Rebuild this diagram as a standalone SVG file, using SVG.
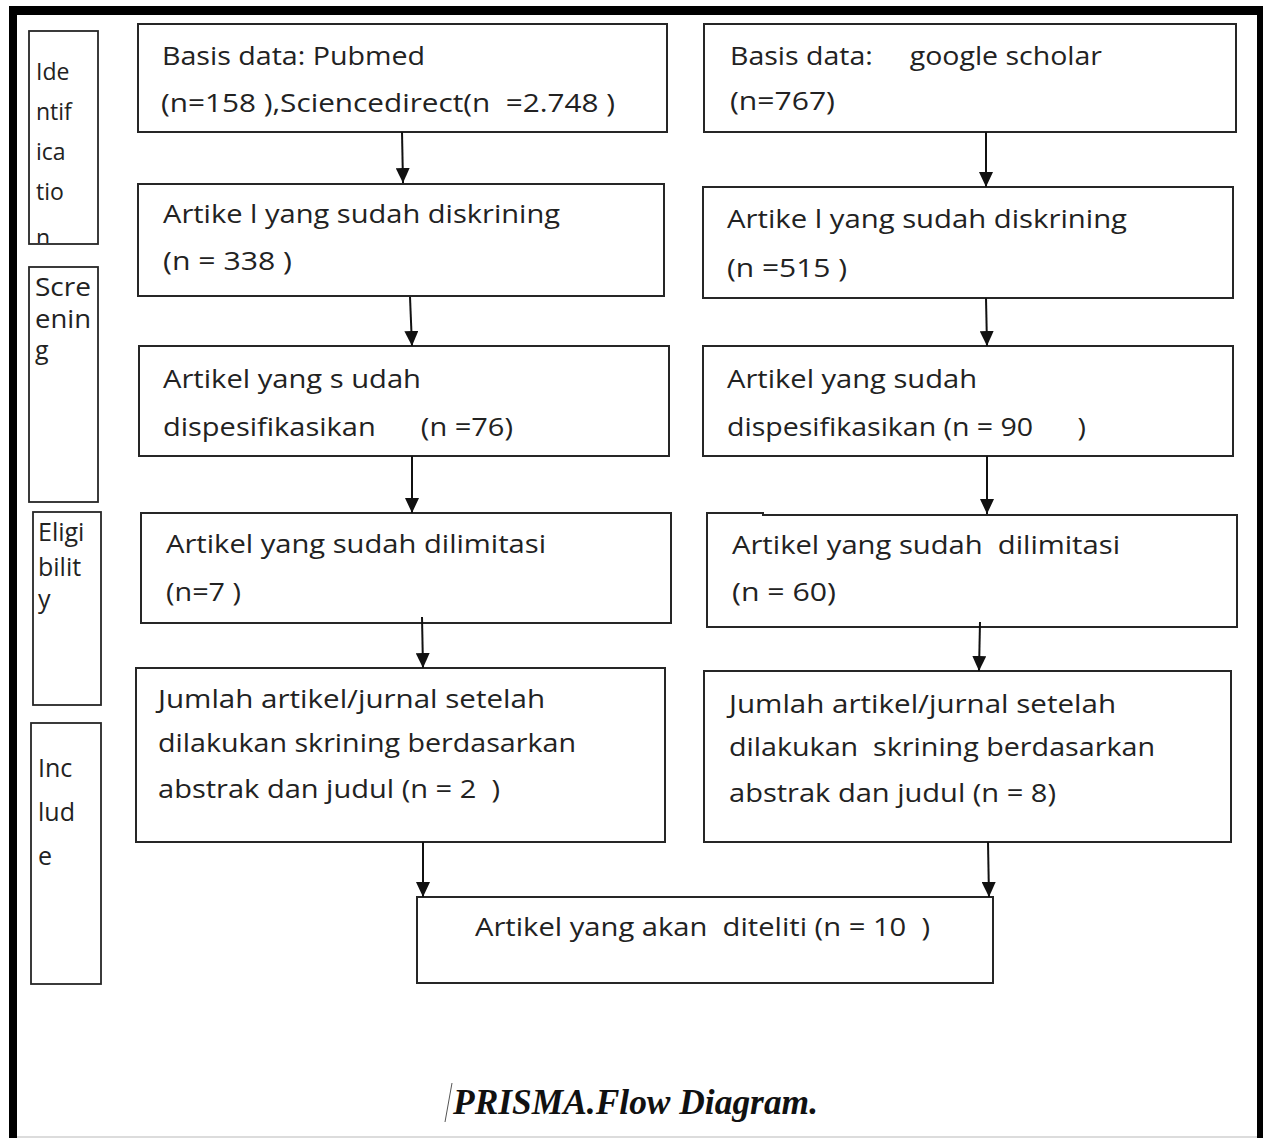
<svg xmlns="http://www.w3.org/2000/svg" width="1263" height="1138" viewBox="0 0 1263 1138">
<style>
.box{fill:none;stroke:#262626;stroke-width:2}
.lbl{fill:none;stroke:#262626;stroke-width:1.8}
.t{font-family:"Open Sans","Noto Sans","Liberation Sans",sans-serif;font-size:25px;fill:#222;white-space:pre}
.s{font-family:"Open Sans","Noto Sans","Liberation Sans",sans-serif;font-size:25px;fill:#222}
.si{font-size:23px}
.c{stroke:#111;stroke-width:2;fill:none;marker-end:url(#ah)}
.cap{font-family:"Liberation Serif","Times New Roman",serif;font-size:36px;font-weight:bold;font-style:italic;fill:#111}
</style>
<defs>
<marker id="ah" markerUnits="userSpaceOnUse" markerWidth="16" markerHeight="14" refX="15" refY="7" orient="auto">
<path d="M0,0 L15,7 L0,14 Z" fill="#111"/>
</marker>
<clipPath id="clipId"><rect x="29" y="31" width="69" height="212"/></clipPath>
</defs>
<rect x="0" y="0" width="1263" height="1138" fill="#fff"/>
<g id="frame">
<rect x="9" y="6" width="1254" height="9" fill="#000"/>
<rect x="9" y="6" width="8" height="1132" fill="#000"/>
<rect x="1257" y="6" width="6" height="1132" fill="#000"/>
<line x1="17" y1="1137" x2="1257" y2="1137" stroke="#d0d0d0" stroke-width="1.5"/>
</g>
<g id="stage-identification">
<rect class="lbl" x="29" y="31" width="69" height="213"/>
<g clip-path="url(#clipId)">
<text class="s si" x="36" y="80">Ide</text>
<text class="s si" x="36" y="120">ntif</text>
<text class="s si" x="36" y="160">ica</text>
<text class="s si" x="36" y="200">tio</text>
<text class="s si" x="36" y="246">n</text>
</g>
</g>
<g id="stage-screening">
<rect class="lbl" x="29" y="267" width="69" height="235"/>
<text class="s" x="35" y="296" textLength="56" lengthAdjust="spacingAndGlyphs">Scre</text>
<text class="s" x="35" y="328" textLength="56" lengthAdjust="spacingAndGlyphs">enin</text>
<text class="s" x="35" y="359">g</text>
</g>
<g id="stage-eligibility">
<rect class="lbl" x="33" y="512" width="68" height="193"/>
<text class="s" x="38" y="541">Eligi</text>
<text class="s" x="38" y="576">bilit</text>
<text class="s" x="38" y="608">y</text>
</g>
<g id="stage-include">
<rect class="lbl" x="31" y="723" width="70" height="261"/>
<text class="s" x="38" y="777">Inc</text>
<text class="s" x="38" y="821">lud</text>
<text class="s" x="38" y="865">e</text>
</g>
<g id="left-db">
<rect class="box" x="138" y="24" width="529" height="108"/>
<text class="t" x="162" y="65" textLength="263" lengthAdjust="spacingAndGlyphs">Basis data: Pubmed</text>
<text class="t" x="161" y="112" textLength="454" lengthAdjust="spacingAndGlyphs">(n=158 ),Sciencedirect(n  =2.748 )</text>
</g>
<g id="left-screened">
<rect class="box" x="138" y="184" width="526" height="112"/>
<text class="t" x="163" y="223" textLength="397" lengthAdjust="spacingAndGlyphs">Artike l yang sudah diskrining</text>
<text class="t" x="163" y="270" textLength="129" lengthAdjust="spacingAndGlyphs">(n = 338 )</text>
</g>
<g id="left-specified">
<rect class="box" x="139" y="346" width="530" height="110"/>
<text class="t" x="163" y="388" textLength="258" lengthAdjust="spacingAndGlyphs">Artikel yang s udah</text>
<text class="t" x="163" y="436" textLength="350" lengthAdjust="spacingAndGlyphs">dispesifikasikan      (n =76)</text>
</g>
<g id="left-limited">
<rect class="box" x="141" y="513" width="530" height="110"/>
<text class="t" x="166" y="553" textLength="380" lengthAdjust="spacingAndGlyphs">Artikel yang sudah dilimitasi</text>
<text class="t" x="166" y="601" textLength="75" lengthAdjust="spacingAndGlyphs">(n=7 )</text>
</g>
<g id="left-total">
<rect class="box" x="136" y="668" width="529" height="174"/>
<text class="t" x="158" y="708" textLength="387" lengthAdjust="spacingAndGlyphs">Jumlah artikel/jurnal setelah</text>
<text class="t" x="158" y="752" textLength="418" lengthAdjust="spacingAndGlyphs">dilakukan skrining berdasarkan</text>
<text class="t" x="158" y="798" textLength="342" lengthAdjust="spacingAndGlyphs">abstrak dan judul (n = 2  )</text>
</g>
<g id="right-db">
<rect class="box" x="704" y="24" width="532" height="108"/>
<text class="t" x="730" y="65" textLength="372" lengthAdjust="spacingAndGlyphs">Basis data:     google scholar</text>
<text class="t" x="730" y="110" textLength="105" lengthAdjust="spacingAndGlyphs">(n=767)</text>
</g>
<g id="right-screened">
<rect class="box" x="703" y="187" width="530" height="111"/>
<text class="t" x="727" y="228" textLength="400" lengthAdjust="spacingAndGlyphs">Artike l yang sudah diskrining</text>
<text class="t" x="727" y="277" textLength="120" lengthAdjust="spacingAndGlyphs">(n =515 )</text>
</g>
<g id="right-specified">
<rect class="box" x="703" y="346" width="530" height="110"/>
<text class="t" x="727" y="388" textLength="250" lengthAdjust="spacingAndGlyphs">Artikel yang sudah</text>
<text class="t" x="727" y="436" textLength="359" lengthAdjust="spacingAndGlyphs">dispesifikasikan (n = 90      )</text>
</g>
<g id="right-limited">
<path class="box" d="M707,513 L763,513 L763,515 L1237,515 L1237,627 L707,627 Z"/>
<text class="t" x="732" y="554" textLength="388" lengthAdjust="spacingAndGlyphs">Artikel yang sudah  dilimitasi</text>
<text class="t" x="732" y="601" textLength="104" lengthAdjust="spacingAndGlyphs">(n = 60)</text>
</g>
<g id="right-total">
<rect class="box" x="704" y="671" width="527" height="171"/>
<text class="t" x="729" y="713" textLength="387" lengthAdjust="spacingAndGlyphs">Jumlah artikel/jurnal setelah</text>
<text class="t" x="729" y="756" textLength="426" lengthAdjust="spacingAndGlyphs">dilakukan  skrining berdasarkan</text>
<text class="t" x="729" y="802" textLength="327" lengthAdjust="spacingAndGlyphs">abstrak dan judul (n = 8)</text>
</g>
<g id="final">
<rect class="box" x="417" y="897" width="576" height="86"/>
<text class="t" x="475" y="936" textLength="455" lengthAdjust="spacingAndGlyphs">Artikel yang akan  diteliti (n = 10  )</text>
</g>
<g id="connectors">
<line class="c" x1="402" y1="132" x2="403" y2="183"/>
<line class="c" x1="410" y1="297" x2="412" y2="346"/>
<line class="c" x1="412" y1="456" x2="412" y2="513"/>
<line class="c" x1="422" y1="617" x2="423" y2="668"/>
<line class="c" x1="423" y1="842" x2="423" y2="897"/>
<line class="c" x1="986" y1="132" x2="986" y2="187"/>
<line class="c" x1="986" y1="298" x2="987" y2="346"/>
<line class="c" x1="987" y1="456" x2="987" y2="514"/>
<line class="c" x1="980" y1="622" x2="979" y2="671"/>
<line class="c" x1="988" y1="842" x2="989" y2="897"/>
</g>
<g id="caption">
<line x1="452" y1="1083" x2="445" y2="1122" stroke="#555" stroke-width="1"/>
<text class="cap" x="453" y="1114" textLength="365" lengthAdjust="spacingAndGlyphs">PRISMA.Flow Diagram.</text>
</g>
</svg>
